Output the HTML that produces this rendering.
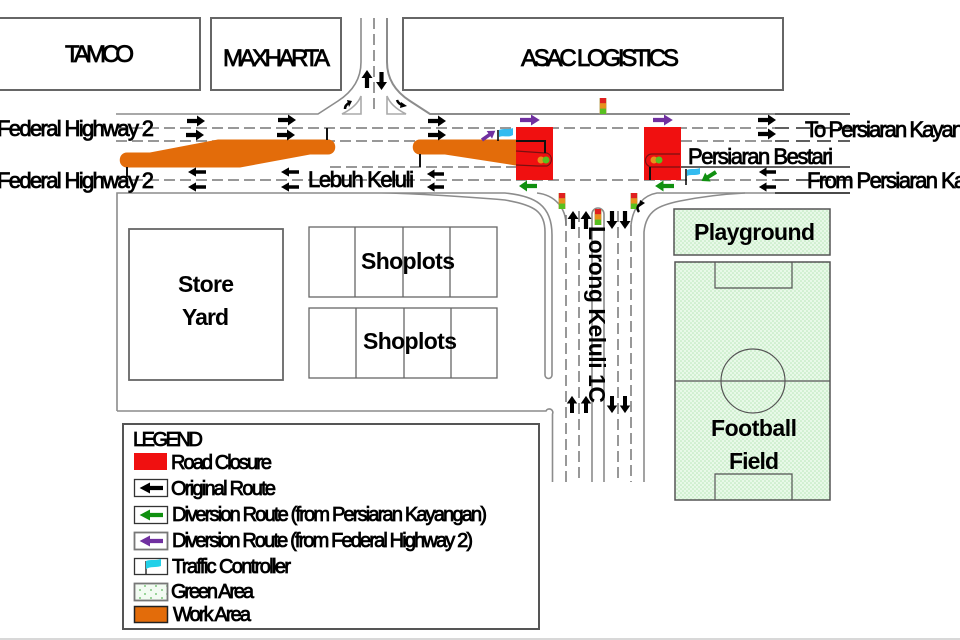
<!DOCTYPE html>
<html><head><meta charset="utf-8"><style>
html,body{margin:0;padding:0;background:#fff}
svg{display:block}
text{font-family:"Liberation Sans",Arial,sans-serif;fill:#000;stroke:#000;stroke-width:.8}
.b{font-weight:bold;stroke-width:0}
</style></head><body>
<svg width="960" height="640" viewBox="0 0 960 640" xmlns="http://www.w3.org/2000/svg">
<defs>
<pattern id="g" width="4" height="4" patternUnits="userSpaceOnUse"><rect width="4" height="4" fill="#e8f9e8"/><circle cx="1" cy="1" r=".8" fill="#b8e6b8"/><circle cx="3" cy="3" r=".8" fill="#b8e6b8"/></pattern>
<pattern id="g2" width="11" height="8" patternUnits="userSpaceOnUse"><rect width="11" height="8" fill="#f2fbf2"/><circle cx="2" cy="2" r=".9" fill="#5cb85c"/><circle cx="8" cy="6" r=".9" fill="#5cb85c"/></pattern>
<path id="a" d="M0-2.100H10V-5.500L18 0 10 5.500V2.100H0Z"/>
<g id="sig"><rect x="-3.500" y="0" width="7" height="16" fill="#b9a05a"/><rect x="-3" y="0" width="6" height="5.300" fill="#e02020"/><rect x="-3" y="5.300" width="6" height="5.300" fill="#e8901c"/><rect x="-3" y="10.600" width="6" height="5.400" fill="#58c020"/></g>
<g id="sh"><circle cx="-5" r="3.500" fill="#e8901c"/><circle cx="0" r="3.500" fill="#58c020"/></g>
</defs>
<rect width="960" height="640" fill="#fff"/>
<rect y="638" width="960" height="2" fill="#d8d8d8"/>

<!-- buildings -->
<g fill="#fff" stroke="#666" stroke-width="2">
<rect x="-4" y="18" width="204" height="72"/>
<rect x="211" y="18" width="130" height="72"/>
<rect x="403" y="18" width="380" height="72"/>
</g>

<!-- road edges -->
<g fill="none" stroke="#8c8c8c" stroke-width="1.600">
<path d="M116 114H318L338 101C352 92 361 80 361 62V18"/>
<path d="M387 18V62C387 80 396 92 410 101L430 114H775" stroke-width="2"/>
<path d="M361 96C358 104 350 110 342 114H361Z" stroke="#aaa"/>
<path d="M387 96C390 104 398 110 406 114H387Z" stroke="#aaa"/>
<path d="M117 411V193H505C535 196 552 205 552 235V375A3.500 3.500 0 0 1 545 375V232C545 212 535 205 505 200 460 196 400 193 380 193"/>
<path d="M117 411H546A3.500 3.500 0 0 1 552.500 414V482"/>
<path d="M537 193C555 195 566 208 566 225"/>
<path d="M631 225C633 205 645 195 657 193H850"/>
<path d="M644 482V232C646 210 660 205 680 201 700 197 725 194 745 193"/>
<path d="M592 482V214A6 6 0 0 1 604 214V482"/>
</g>
<g fill="none" stroke="#777" stroke-width="1.500" stroke-dasharray="11 5">
<path d="M374 18V114"/>
<path d="M116 128H775"/>
<path d="M116 141H516"/>
<path d="M681 141H775"/>
<path d="M330 167H516"/>
<path d="M116 180H775"/>
<path d="M566 215V482"/>
<path d="M579 211V482"/>
<path d="M618 211V482"/>
<path d="M631 225V482"/>
</g>
<g stroke="#000" stroke-width="1.200" fill="none">
<path d="M775 114H850M775 167H850M775 193H850M653 167H775"/>
<path d="M775 128H850M775 141H850M775 180H850" stroke-dasharray="14 7"/>
</g>

<!-- work area -->
<path d="M127 153C118 153 118 167 127 167L240 167L310 154H328C337 154 337 140 328 140H218L150 153Z" fill="#e36c0a" stroke="#e36c0a" stroke-width="1"/>
<path d="M420 140H516V165L445 154H420C411 154 411 140 420 140Z" fill="#e36c0a" stroke="#e36c0a" stroke-width="1"/>

<!-- closures -->
<rect x="516" y="127" width="37" height="53" fill="#f01010"/>
<rect x="644" y="127" width="37" height="53" fill="#f01010"/>
<g fill="none" stroke="#7a1010" stroke-width="1.200">
<path d="M516 151L545 153H547A7 7 0 0 1 547 166H538L516 165"/>
<path d="M680 154H652A6.500 6.500 0 0 0 652 167H680"/>
</g>
<g stroke="#111" stroke-width="2" fill="none">
<path d="M516 141H545V153"/>
<path d="M650 167V180"/>
<path d="M327 128V140M127 167V177M420 154V167"/>
</g>
<use href="#sh" x="546" y="160"/>
<use href="#sh" x="659" y="160"/>

<!-- signals -->
<use href="#sig" x="603" y="98"/>
<use href="#sig" x="562" y="193"/>
<use href="#sig" x="634" y="193"/>
<use href="#sig" x="598" y="209"/>

<!-- black arrows -->
<g fill="#000">
<use href="#a" x="187" y="121"/><use href="#a" x="186" y="135"/>
<use href="#a" x="278" y="120"/><use href="#a" x="277" y="135"/>
<use href="#a" x="428" y="121"/><use href="#a" x="428" y="135"/>
<use href="#a" x="758" y="120"/><use href="#a" x="758" y="134"/>
<use href="#a" transform="translate(206 172) scale(-1 .85)"/><use href="#a" transform="translate(206 187) scale(-1 .85)"/>
<use href="#a" transform="translate(299 172) scale(-1 .85)"/><use href="#a" transform="translate(299 187) scale(-1 .85)"/>
<use href="#a" transform="translate(444 174) scale(-.95 .85)"/><use href="#a" transform="translate(444 187) scale(-.95 .85)"/>
<use href="#a" transform="translate(776 172) scale(-.95 .85)"/><use href="#a" transform="translate(776 187) scale(-.95 .85)"/>
<use href="#a" transform="translate(367 88) rotate(-90)"/>
<use href="#a" transform="translate(381.500 72) rotate(90)"/>
<use href="#a" transform="translate(573 229) rotate(-90)"/><use href="#a" transform="translate(586 229) rotate(-90)"/>
<use href="#a" transform="translate(612 211) rotate(90)"/><use href="#a" transform="translate(625 211) rotate(90)"/>
<use href="#a" transform="translate(572 413) rotate(-90) scale(.95)"/><use href="#a" transform="translate(586 413) rotate(-90) scale(.95)"/>
<use href="#a" transform="translate(612 396) rotate(90) scale(.95)"/><use href="#a" transform="translate(625 396) rotate(90) scale(.95)"/>
</g>
<!-- small turn arrows -->
<g fill="none" stroke="#000" stroke-width="2.500">
<path d="M345 109C345 106 347 104 349 103"/><path d="M397 100C398 103 400 104 402 105"/><path d="M639 212C636 208 638 205 641 204"/>
</g>
<g fill="#000">
<path d="M352 101L347 100 349 107Z"/><path d="M407 106L401 102 400 108Z"/><path d="M645 203L640 200 639 207Z"/>
</g>

<!-- coloured arrows -->
<g fill="#7030a0">
<use href="#a" transform="translate(520 120) scale(1.100 1)"/>
<use href="#a" transform="translate(653 120) scale(1.100 1)"/>
<use href="#a" transform="translate(482 140) rotate(-35) scale(.9 .85)"/>
</g>
<g fill="#109010">
<use href="#a" transform="translate(537 186) scale(-1 1)"/>
<use href="#a" transform="translate(674 186) scale(-1.050 1)"/>
<use href="#a" transform="translate(716 172) rotate(148) scale(.95)"/>
</g>

<!-- flags -->
<path d="M498 130V141" stroke="#000" stroke-width="1.500"/>
<path d="M499 130C504 128 508 130 513 128V135C508 138 504 135 499 137Z" fill="#33bbf0"/>
<path d="M686 169V185" stroke="#000" stroke-width="1.500"/>
<path d="M687 170C691 168 695 170 700 168V174C695 176 691 174 687 176Z" fill="#33bbf0"/>

<!-- green areas -->
<g stroke="#555" stroke-width="1.500">
<rect x="674" y="209" width="156" height="46" fill="url(#g)"/>
<rect x="675" y="262" width="155" height="238" fill="url(#g)"/>
<g fill="none" stroke-width="1.200">
<path d="M715 262V288H792V262M715 500V474H792V500M675 381H830"/>
<circle cx="753" cy="381" r="32"/>
</g>
</g>

<!-- store yard, shoplots -->
<g fill="#fff" stroke="#666" stroke-width="1.800">
<rect x="129" y="229" width="154" height="151"/>
</g>
<g fill="#fff" stroke="#666" stroke-width="1.300">
<rect x="309" y="227" width="188" height="70"/>
<rect x="309" y="308" width="188" height="70"/>
<path d="M355 227V297M403 227V297M450 227V297M356 308V378M404 308V378M451 308V378" fill="none"/>
</g>

<!-- labels -->
<text x="65" y="62" font-size="24" textLength="69">TAMCO</text>
<text x="223" y="66" font-size="24" textLength="107">MAXHARTA</text>
<text x="521" y="66" font-size="24" textLength="158">ASAC LOGISTICS</text>
<text x="-3" y="136" font-size="22" textLength="157">Federal Highway 2</text>
<text x="-3" y="188" font-size="22" textLength="157">Federal Highway 2</text>
<text x="805" y="137" font-size="22" textLength="190">To Persiaran Kayangan</text>
<text x="807" y="188" font-size="22" textLength="222">From Persiaran Kayangan</text>
<text x="688" y="164" font-size="22" textLength="145">Persiaran Bestari</text>
<text x="308" y="187" font-size="22" textLength="106">Lebuh Keluli</text>
<text class="b" x="694" y="240" font-size="23" textLength="121">Playground</text>
<text class="b" x="178" y="292" font-size="23" textLength="56">Store</text>
<text class="b" x="182" y="325" font-size="23" textLength="47">Yard</text>
<text class="b" x="361" y="269" font-size="23" textLength="94">Shoplots</text>
<text class="b" x="363" y="349" font-size="23" textLength="94">Shoplots</text>
<text class="b" x="711" y="436" font-size="23" textLength="86">Football</text>
<text class="b" x="729" y="469" font-size="23" textLength="50">Field</text>
<text class="b" transform="translate(589 226) rotate(90)" font-size="23" textLength="177">Lorong Keluli 1C</text>

<!-- legend -->
<rect x="123" y="424" width="416" height="205" fill="#fff" stroke="#555" stroke-width="2"/>
<rect x="134" y="453" width="33" height="17" fill="#f01010"/>
<g fill="#fff" stroke="#333" stroke-width="1.300">
<rect x="134.500" y="479.500" width="33" height="17"/>
<rect x="134.500" y="506.500" width="33" height="17"/>
<rect x="134.500" y="532.500" width="33" height="17" stroke="#777" stroke-width="1.800"/>
<rect x="134.500" y="558.500" width="33" height="16"/>
<rect x="134.500" y="583.500" width="33" height="17" fill="url(#g2)" stroke="#777" stroke-width="1.800"/>
<rect x="134.500" y="606.500" width="33" height="16" fill="#e36c0a" stroke="#222" stroke-width="1.500"/>
</g>
<use href="#a" fill="#000" transform="translate(163 488) scale(-1.300 1)"/>
<use href="#a" fill="#109010" transform="translate(163 515) scale(-1.300 1)"/>
<use href="#a" fill="#7030a0" transform="translate(163 541) scale(-1.300 1)"/>
<path d="M146 561V574" stroke="#000" stroke-width="1.200"/>
<path d="M146 561C151 559 155 561 161 559V566C155 568 151 566 146 569Z" fill="#22d0e8"/>
<g font-size="20">
<text x="133" y="446" textLength="70">LEGEND</text>
<text x="171" y="469" textLength="101">Road Closure</text>
<text x="171" y="495" textLength="105">Original Route</text>
<text x="172" y="521" textLength="315">Diversion Route (from Persiaran Kayangan)</text>
<text x="172" y="547" textLength="301">Diversion Route (from Federal Highway 2)</text>
<text x="172" y="573" textLength="119">Traffic Controller</text>
<text x="171" y="598" textLength="83">Green Area</text>
<text x="173" y="621" textLength="78">Work Area</text>
</g>
</svg>
</body></html>
